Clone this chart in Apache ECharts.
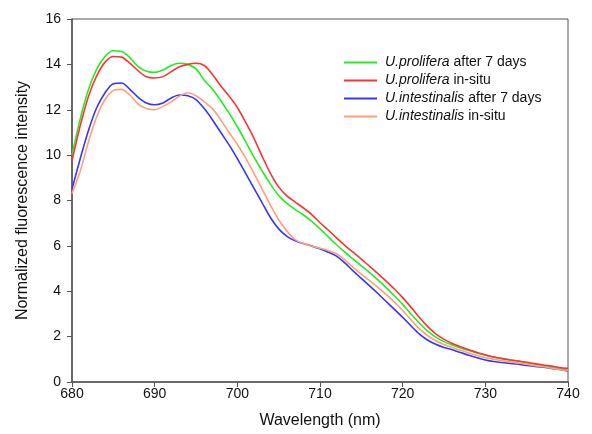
<!DOCTYPE html>
<html>
<head>
<meta charset="utf-8">
<script src="https://cdn.jsdelivr.net/npm/echarts@6/dist/echarts.min.js"></script>
<style>html,body{margin:0;padding:0;background:#fff}#c{width:592px;height:434px}</style>
</head>
<body>
<div id="c"></div>
<script>
const wavelengths = [];
for (let w = 680; w <= 740; w++) wavelengths.push(w);

const prolifera7d = [10.0,11.6,12.9,13.8,14.35,14.6,14.57,14.3,13.9,13.7,13.65,13.75,13.95,14.05,14.0,13.8,13.3,12.9,12.4,11.85,11.25,10.6,9.92,9.3,8.72,8.22,7.87,7.6,7.36,7.08,6.75,6.4,6.05,5.72,5.42,5.12,4.82,4.5,4.16,3.8,3.42,3.0,2.6,2.25,1.98,1.78,1.63,1.5,1.39,1.28,1.18,1.1,1.04,0.98,0.92,0.85,0.78,0.72,0.66,0.6,0.55];
const proliferaInSitu = [9.75,11.3,12.6,13.5,14.1,14.35,14.32,14.05,13.72,13.45,13.4,13.46,13.68,13.9,14.0,14.05,13.95,13.55,13.05,12.6,12.1,11.45,10.75,9.95,9.2,8.6,8.2,7.93,7.67,7.38,7.02,6.7,6.35,6.02,5.72,5.42,5.1,4.78,4.45,4.1,3.72,3.3,2.85,2.45,2.12,1.88,1.7,1.55,1.42,1.3,1.2,1.1,1.03,0.97,0.92,0.87,0.81,0.75,0.7,0.64,0.6];
const intestinalis7d = [8.5,9.85,11.1,12.1,12.75,13.15,13.18,12.9,12.55,12.3,12.22,12.3,12.52,12.65,12.62,12.45,12.05,11.55,11.0,10.45,9.85,9.2,8.55,7.9,7.25,6.75,6.42,6.22,6.1,5.99,5.87,5.72,5.55,5.25,4.9,4.57,4.24,3.9,3.55,3.2,2.85,2.48,2.12,1.85,1.66,1.52,1.42,1.3,1.18,1.07,0.97,0.9,0.86,0.82,0.78,0.73,0.69,0.65,0.6,0.55,0.48];
const intestinalisInSitu = [8.3,9.3,10.6,11.7,12.45,12.85,12.9,12.65,12.25,12.05,12.0,12.15,12.35,12.6,12.75,12.62,12.35,12.05,11.55,11.0,10.47,9.88,9.2,8.5,7.8,7.15,6.65,6.28,6.1,5.98,5.9,5.8,5.65,5.38,5.05,4.75,4.47,4.17,3.86,3.52,3.15,2.75,2.35,2.05,1.82,1.65,1.52,1.4,1.28,1.17,1.07,1.0,0.94,0.89,0.84,0.78,0.72,0.67,0.61,0.55,0.5];

const seriesNames = ['U.prolifera after 7 days','U.prolifera in-situ','U.intestinalis after 7 days','U.intestinalis in-situ'];
const seriesData = [prolifera7d, proliferaInSitu, intestinalis7d, intestinalisInSitu];
const colors = ['#22ee22','#ff3333','#3535ff','#ffa07a'];
const xTicks = [680, 690, 700, 710, 720, 730, 740];
const yTicks = [0, 2, 4, 6, 8, 10, 12, 14, 16];

const chart = echarts.init(document.getElementById('c'), null, {renderer: 'canvas'});
const font = 'Arial, "Liberation Sans", sans-serif';
chart.setOption({
  animation: false,
  backgroundColor: '#fff',
  grid: {left: 72, right: 24, top: 19, bottom: 52, show: true, borderColor: '#555', borderWidth: 1},
  legend: {
    orient: 'vertical', left: 339, top: 50, itemWidth: 33, itemHeight: 2, itemGap: 3,
    icon: 'rect',
    data: seriesNames,
    textStyle: {fontFamily: font, fontSize: 14, color: '#111', lineHeight: 15,
      rich: {i: {fontStyle: 'italic', fontFamily: font, fontSize: 14, color: '#111', padding: [0, 0, 0, 3]}}},
    formatter: function (name) {
      const sp = name.indexOf(' ');
      return '{i|' + name.slice(0, sp) + '}' + name.slice(sp);
    }
  },
  xAxis: {
    type: 'value', min: xTicks[0], max: xTicks[xTicks.length - 1], interval: 10,
    name: 'Wavelength (nm)', nameLocation: 'middle', nameGap: 31,
    nameTextStyle: {fontFamily: font, fontSize: 16, color: '#111'},
    axisLine: {lineStyle: {color: '#555', width: 1.5}},
    axisTick: {show: true, length: 5, lineStyle: {color: '#555'}},
    axisLabel: {fontFamily: font, fontSize: 14, color: '#111', margin: 5},
    splitLine: {show: false}
  },
  yAxis: {
    type: 'value', min: yTicks[0], max: yTicks[yTicks.length - 1], interval: 2,
    name: 'Normalized fluorescence intensity', nameLocation: 'middle', nameGap: 41,
    nameTextStyle: {fontFamily: font, fontSize: 16, color: '#111'},
    axisLine: {show: true, lineStyle: {color: '#555', width: 1.5}},
    axisTick: {show: true, length: 5, lineStyle: {color: '#555'}},
    axisLabel: {fontFamily: font, fontSize: 14, color: '#111', margin: 11},
    splitLine: {show: false}
  },
  series: seriesNames.map((n, k) => ({
    name: n, type: 'line', showSymbol: false, symbol: 'none', smooth: 0.3,
    color: colors[k],
    lineStyle: {width: 1.6, color: colors[k]},
    data: wavelengths.map((w, i) => [w, seriesData[k][i]])
  }))
});
</script>
</body>
</html>
